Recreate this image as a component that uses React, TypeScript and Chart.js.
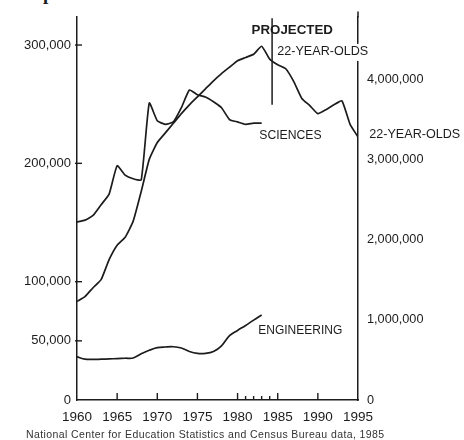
import React, { useEffect, useRef } from "react";
import { Chart, registerables } from "chart.js";

Chart.register(...registerables);

// ---------- data ----------
const scienceYears = [1960, 1961, 1962, 1963, 1964, 1965, 1966, 1967, 1968, 1969, 1970, 1971, 1972, 1973, 1974, 1975, 1976, 1977, 1978, 1979, 1980, 1981, 1982, 1983];
const sciences = [150500, 152000, 156000, 165000, 174000, 198000, 190000, 187000, 186000, 251000, 236000, 233000, 235000, 247000, 262000, 258000, 256000, 252000, 247000, 237000, 235000, 233000, 234000, 234000];

const engineeringYears = [1960, 1961, 1962, 1963, 1964, 1965, 1966, 1967, 1968, 1969, 1970, 1971, 1972, 1973, 1974, 1975, 1976, 1977, 1978, 1979, 1980, 1981, 1982, 1983];
const engineering = [36500, 34500, 34300, 34500, 34700, 35000, 35300, 35500, 39000, 42000, 44200, 44800, 45000, 43900, 41000, 39400, 39400, 41000, 45800, 54400, 58800, 63000, 67500, 71800];

const youthYears = [1960, 1961, 1962, 1963, 1964, 1965, 1966, 1967, 1968, 1969, 1970, 1971, 1972, 1973, 1974, 1975, 1976, 1977, 1978, 1979, 1980, 1981, 1982, 1983, 1984, 1985, 1986, 1987, 1988, 1989, 1990, 1991, 1992, 1993, 1994, 1995];
const youth22 = [1230000, 1290000, 1400000, 1500000, 1750000, 1930000, 2030000, 2230000, 2600000, 3000000, 3210000, 3330000, 3450000, 3570000, 3680000, 3780000, 3880000, 3980000, 4070000, 4150000, 4230000, 4270000, 4310000, 4410000, 4250000, 4180000, 4130000, 3970000, 3760000, 3670000, 3570000, 3620000, 3680000, 3730000, 3440000, 3280000];

const xTickLabels = [1960, 1965, 1970, 1975, 1980, 1985, 1990, 1995];
const xTickMarks = [1965, 1970, 1975, 1980, 1981, 1982, 1983, 1984, 1985, 1990];
const xMajorMarks = [1965, 1970, 1975, 1980, 1985, 1990];
const leftTicks = [0, 50000, 100000, 200000, 300000];
const rightTicks = [0, 1000000, 2000000, 3000000, 4000000];

const PROJECTED_YEAR = 1984.3;
const PROJECTED_SPAN = [4760000, 3680000]; // right-axis values, top and bottom of the marker line

// annotation anchors (data coordinates)
const annotations = [
  { text: "PROJECTED", x: 1981.75, y: 4610000, axis: "y1", bold: true, size: 13.3, bg: false },
  { text: "22-YEAR-OLDS", x: 1984.94, y: 4340000, axis: "y1", bold: false, size: 12.6, bg: true },
  { text: "SCIENCES", x: 1982.7, y: 223500, axis: "y", bold: false, size: 12.2, bg: false },
  { text: "22-YEAR-OLDS", x: 1996.4, y: 3310000, axis: "y1", bold: false, size: 12.6, bg: false },
  { text: "ENGINEERING", x: 1982.58, y: 58200, axis: "y", bold: false, size: 12, bg: false },
];

const INK = "#1c1c1c";
const SANS = '"Liberation Sans", Arial, sans-serif';

const fmt = (v: number) => v.toLocaleString("en-US");

const overlayPlugin = {
  id: "overlay",
  afterDraw(chart: any) {
    const { ctx, chartArea, scales } = chart;
    const x = scales.x;
    const y = scales.y;
    const y1 = scales.y1;
    ctx.save();
    ctx.strokeStyle = INK;
    ctx.lineWidth = 1.4;
    // x tick marks (inward)
    xTickMarks.forEach((v) => {
      const px = x.getPixelForValue(v);
      const len = xMajorMarks.includes(v) ? 7 : 4;
      ctx.beginPath();
      ctx.moveTo(px, chartArea.bottom);
      ctx.lineTo(px, chartArea.bottom - len);
      ctx.stroke();
    });
    // left tick marks
    leftTicks
      .filter((v) => v > 0)
      .forEach((v) => {
        const py = y.getPixelForValue(v);
        ctx.beginPath();
        ctx.moveTo(chartArea.left - 2, py);
        ctx.lineTo(chartArea.left + 5, py);
        ctx.stroke();
      });
    // right axis runs slightly above the plot area
    ctx.lineWidth = 1.5;
    ctx.beginPath();
    ctx.moveTo(chartArea.right, chartArea.top - 5);
    ctx.lineTo(chartArea.right, chartArea.top + 1);
    ctx.stroke();
    // projected marker line
    const ppx = x.getPixelForValue(PROJECTED_YEAR);
    ctx.beginPath();
    ctx.moveTo(ppx, y1.getPixelForValue(PROJECTED_SPAN[0]));
    ctx.lineTo(ppx, y1.getPixelForValue(PROJECTED_SPAN[1]));
    ctx.stroke();

    // labels
    ctx.textBaseline = "middle";
    ctx.textAlign = "left";
    annotations.forEach((a) => {
      const px = x.getPixelForValue(a.x);
      const py = (a.axis === "y1" ? y1 : y).getPixelForValue(a.y);
      ctx.font = `${a.bold ? "bold " : ""}${a.size}px ${SANS}`;
      if (a.bg) {
        const w = ctx.measureText(a.text).width;
        ctx.fillStyle = "#ffffff";
        ctx.fillRect(px - 2, py - 8, w + 4, 17);
      }
      ctx.fillStyle = INK;
      ctx.fillText(a.text, px, py);
    });
    ctx.restore();
  },
};

export default function App() {
  const canvasRef = useRef<HTMLCanvasElement | null>(null);

  useEffect(() => {
    const canvas = canvasRef.current;
    if (!canvas) return;
    const chart = new Chart(canvas, {
      type: "line",
      data: {
        datasets: [
          {
            label: "Sciences",
            data: scienceYears.map((yr, i) => ({ x: yr, y: sciences[i] })),
            yAxisID: "y",
            borderColor: INK,
            borderWidth: 1.7,
            pointRadius: 0,
            tension: 0.15,
            fill: false,
          },
          {
            label: "Engineering",
            data: engineeringYears.map((yr, i) => ({ x: yr, y: engineering[i] })),
            yAxisID: "y",
            borderColor: INK,
            borderWidth: 1.7,
            pointRadius: 0,
            tension: 0.35,
            fill: false,
          },
          {
            label: "22-year-olds",
            data: youthYears.map((yr, i) => ({ x: yr, y: youth22[i] })),
            yAxisID: "y1",
            borderColor: INK,
            borderWidth: 1.7,
            pointRadius: 0,
            tension: 0.15,
            fill: false,
          },
        ],
      },
      options: {
        animation: false,
        responsive: false,
        layout: { padding: { top: 10, left: 0, right: 0, bottom: 0 } },
        plugins: {
          legend: { display: false },
          tooltip: { enabled: false },
          title: { display: false },
        },
        scales: {
          x: {
            type: "linear",
            min: 1960,
            max: 1995,
            afterBuildTicks: (s: any) => {
              s.ticks = xTickLabels.map((v) => ({ value: v }));
            },
            afterFit: (s: any) => {
              s.height = 40;
            },
            grid: { display: false, drawTicks: false },
            border: { display: true, color: INK, width: 1.5 },
            ticks: {
              autoSkip: false,
              maxRotation: 0,
              padding: 9,
              color: INK,
              font: { family: '"Liberation Sans Narrow", "Liberation Sans", sans-serif', size: 13.5 },
              callback: (v: any) => String(v),
            },
          },
          y: {
            type: "linear",
            position: "left",
            min: 0,
            max: 324000,
            afterBuildTicks: (s: any) => {
              s.ticks = leftTicks.map((v) => ({ value: v }));
            },
            afterFit: (s: any) => {
              s.width = 77;
            },
            grid: { display: false, drawTicks: false },
            border: { display: true, color: INK, width: 1.5 },
            ticks: {
              padding: 6,
              color: INK,
              font: { family: SANS, size: 13 },
              callback: (v: any) => fmt(Number(v)),
            },
          },
          y1: {
            type: "linear",
            position: "right",
            min: 0,
            max: 4780000,
            afterBuildTicks: (s: any) => {
              s.ticks = rightTicks.map((v) => ({ value: v }));
            },
            afterFit: (s: any) => {
              s.width = 106;
            },
            grid: { display: false, drawTicks: false },
            border: { display: true, color: INK, width: 1.5 },
            ticks: {
              padding: 9,
              color: INK,
              font: { family: SANS, size: 12.7 },
              callback: (v: any) => fmt(Number(v)),
            },
          },
        },
      },
      plugins: [overlayPlugin],
    } as any);
    return () => chart.destroy();
  }, []);

  return (
    <div
      style={{
        position: "absolute",
        left: 0,
        top: 0,
        width: 464,
        height: 440,
        overflow: "hidden",
        background: "#ffffff",
      }}
    >
      <div
        style={{
          position: "absolute",
          left: 22,
          top: -16,
          font: 'bold 19px "Liberation Serif", serif',
          lineHeight: "19px",
          color: INK,
          whiteSpace: "nowrap",
        }}
      >
        Population
      </div>
      <canvas
        ref={canvasRef}
        width={464}
        height={440}
        style={{ position: "absolute", left: 0, top: 0, width: 464, height: 440 }}
      />
      <div
        style={{
          position: "absolute",
          left: 26,
          top: 428,
          font: `10.5px ${SANS}`,
          letterSpacing: "0.4px",
          lineHeight: "12px",
          color: "#333",
          whiteSpace: "nowrap",
        }}
      >
        National Center for Education Statistics and Census Bureau data, 1985
      </div>
    </div>
  );
}
